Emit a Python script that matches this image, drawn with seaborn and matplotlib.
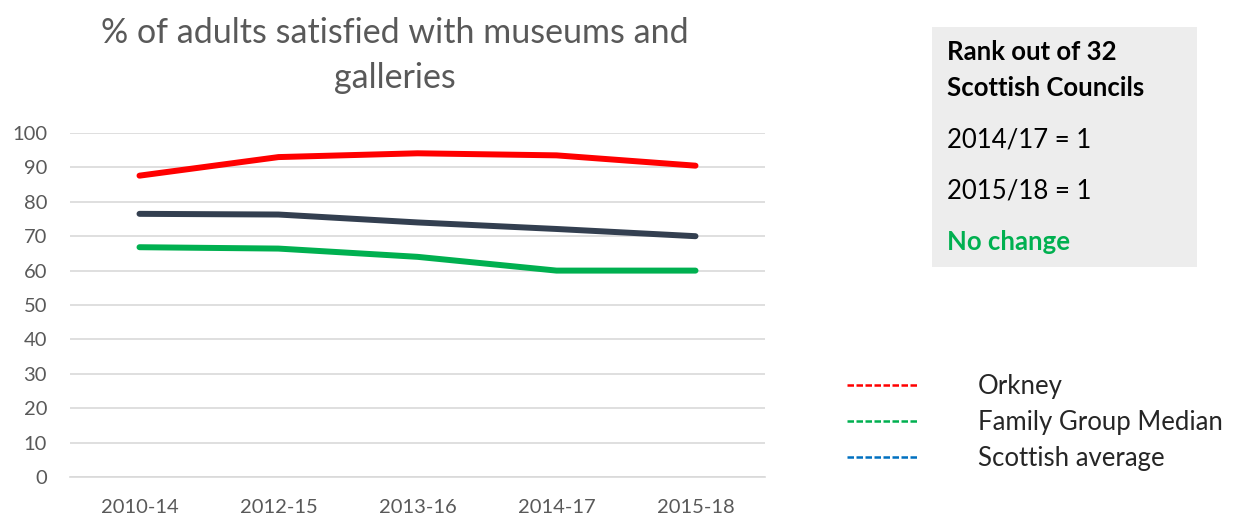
import matplotlib
matplotlib.use("Agg")
import matplotlib.pyplot as plt
import seaborn as sns
import pandas as pd
from matplotlib.lines import Line2D
from matplotlib.patches import Rectangle

periods = ["2010-14", "2012-15", "2013-16", "2014-17", "2015-18"]
orkney = [87.6, 93.0, 94.1, 93.5, 90.5]
family_median = [66.8, 66.4, 64.0, 60.0, 60.0]
scottish_avg = [76.5, 76.3, 74.0, 72.1, 70.0]
series_names = ["Orkney", "Family Group Median", "Scottish average"]
line_colors = ["#FF0000", "#00B050", "#333F50"]
legend_colors = ["#FF0000", "#00B050", "#0070C0"]
yticks = list(range(0, 101, 10))

sns.set_theme(style="white")
plt.rcParams["font.family"] = ["Lato", "DejaVu Sans"]

df = pd.DataFrame({
    "period": periods * 3,
    "value": orkney + family_median + scottish_avg,
    "series": [series_names[0]] * 5 + [series_names[1]] * 5 + [series_names[2]] * 5,
})

W, H = 1239, 517
fig = plt.figure(figsize=(W / 100, H / 100), dpi=100)
ax = fig.add_axes([70 / W, 1 - 477 / H, 695 / W, 344 / H])

sns.lineplot(data=df, x="period", y="value", hue="series", hue_order=series_names,
             palette=dict(zip(series_names, line_colors)), linewidth=4.3, ax=ax,
             legend=False, solid_capstyle="round", sort=False)

ax.set_xlim(-0.5, 4.5)
ax.set_ylim(0, 100)
ax.set_yticks(yticks)
ax.yaxis.grid(True, color="#D9D9D9", linewidth=1.2)
ax.set_axisbelow(True)
for s in ["top", "right", "left"]:
    ax.spines[s].set_visible(False)
ax.spines["bottom"].set_color("#D9D9D9")
ax.spines["bottom"].set_linewidth(1.2)
ax.set_xlabel("")
ax.set_ylabel("")
ax.tick_params(axis="both", colors="#595959", labelsize=14.5, length=0)
ax.tick_params(axis="y", pad=16.5)
ax.tick_params(axis="x", pad=15.5)

title_color = "#595959"
fig.text(394.5 / W, 1 - 33 / H, "% of adults satisfied with museums and",
         ha="center", va="center", fontsize=24.5, color=title_color)
fig.text(394.5 / W, 1 - 78 / H, "galleries",
         ha="center", va="center", fontsize=24.5, color=title_color)

# Rank box
fig.patches.append(Rectangle((932 / W, 1 - 267 / H), 265 / W, 240 / H,
                             transform=fig.transFigure, facecolor="#EDEDED", edgecolor="none"))
fs = 18.5
fig.text(947 / W, 1 - 52 / H, "Rank out of 32", ha="left", va="center",
         fontsize=fs, fontweight="bold", color="black")
fig.text(947 / W, 1 - 88 / H, "Scottish Councils", ha="left", va="center",
         fontsize=fs, fontweight="bold", color="black")
fig.text(947 / W, 1 - 140 / H, "2014/17 = 1", ha="left", va="center", fontsize=fs, color="black")
fig.text(947 / W, 1 - 191 / H, "2015/18 = 1", ha="left", va="center", fontsize=fs, color="black")
fig.text(947 / W, 1 - 242 / H, "No change", ha="left", va="center", fontsize=fs,
         fontweight="bold", color="#00B050")

handles = [Line2D([], [], color=c, linewidth=1.8, linestyle=(0, (2.6, 1.0))) for c in legend_colors]
fig.legend(handles, series_names, loc="upper left", bbox_to_anchor=(824 / W, 1 - 351 / H),
           frameon=False, fontsize=18.5, handlelength=2.72, handletextpad=2.37, labelspacing=0.42)

fig.savefig("out.png", dpi=100)
